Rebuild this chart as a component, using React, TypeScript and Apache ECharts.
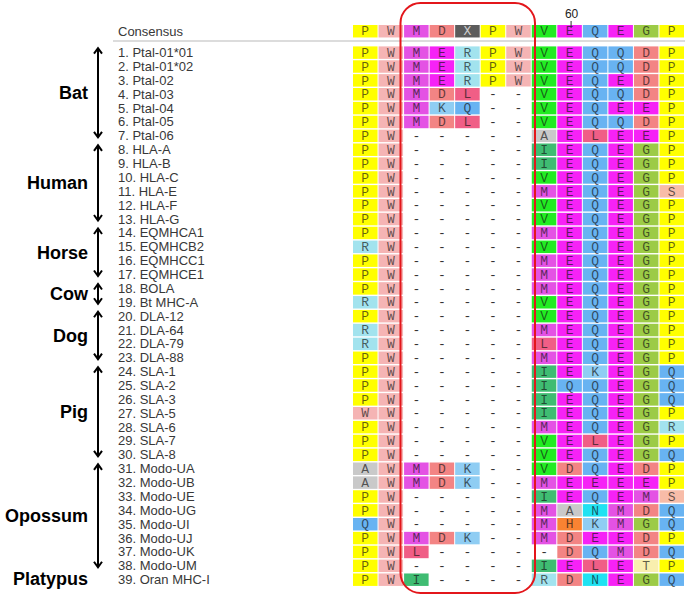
import React, { useEffect, useRef } from 'react';
import * as echarts from 'echarts';

// ---------- data ----------
const consensusName = 'Consensus';
const consensus = 'PWMDXPWVEQEGP';

const seqNames = [
  '1. Ptal-01*01', '2. Ptal-01*02', '3. Ptal-02', '4. Ptal-03', '5. Ptal-04', '6. Ptal-05', '7. Ptal-06',
  '8. HLA-A', '9. HLA-B', '10. HLA-C', '11. HLA-E', '12. HLA-F', '13. HLA-G',
  '14. EQMHCA1', '15. EQMHCB2', '16. EQMHCC1', '17. EQMHCE1',
  '18. BOLA', '19. Bt MHC-A',
  '20. DLA-12', '21. DLA-64', '22. DLA-79', '23. DLA-88',
  '24. SLA-1', '25. SLA-2', '26. SLA-3', '27. SLA-5', '28. SLA-6', '29. SLA-7', '30. SLA-8',
  '31. Modo-UA', '32. Modo-UB', '33. Modo-UE', '34. Modo-UG', '35. Modo-UI', '36. Modo-UJ', '37. Modo-UK', '38. Modo-UM',
  '39. Oran MHC-I',
];

const sequences = [
  'PWMERPWVEQQDP', 'PWMERPWVEQQDP', 'PWMERPWVEQEDP', 'PWMDL--VEQQDP', 'PWMKQ--VEQEEP', 'PWMDL--VEQQDP', 'PW-----AELEEP',
  'PW-----IEQEGP', 'PW-----IEQEGP', 'PW-----VEQEGP', 'PW-----MEQEGS', 'PW-----VEQEGP', 'PW-----VEQEGP',
  'PW-----MEQEGP', 'RW-----VEQEGP', 'PW-----MEQEGP', 'PW-----MEQEGP',
  'PW-----MEQEGP', 'RW-----VEQEGP',
  'PW-----VEQEGP', 'RW-----MEQEGP', 'RW-----LEQEGP', 'PW-----MEQEGP',
  'PW-----IEKEGQ', 'PW-----IQQEGQ', 'PW-----IEQEGQ', 'WW-----IEQEGP', 'PW-----MEQEGR', 'PW-----VELEGP', 'PW-----VEQEGQ',
  'AWMDK--VDQEDP', 'AWMDK--MEEEEP', 'PW-----IEQEMS', 'PW-----MANMDQ', 'QW-----MHKMGQ', 'PWMDK--MDEEDP', 'PWL-----DQMDQ', 'PW-----IELETP',
  'PWI----RDNEGQ',
];

const groupNames = ['Bat', 'Human', 'Horse', 'Cow', 'Dog', 'Pig', 'Opossum', 'Platypus'];
const groupFirstRow = [1, 8, 14, 18, 20, 24, 31, 39];
const groupLastRow = [7, 13, 17, 19, 23, 30, 38, 39];
const groupHasArrow = [true, true, true, true, true, true, true, false];

const markerLabel = '60';
const markerColumn = 8;

const residueColors: Record<string, string> = {
  P: '#ffff00',
  W: '#f5b4b4',
  M: '#e452e4',
  E: '#f622f6',
  D: '#f38484',
  X: '#5c5c5c',
  R: '#a2e3ee',
  K: '#8fcdf3',
  Q: '#68b3f2',
  L: '#f05e86',
  V: '#22ec22',
  A: '#c9c9c9',
  I: '#3fbc72',
  G: '#9ccb46',
  S: '#f8bca8',
  N: '#20e2f2',
  H: '#f98332',
  T: '#f9efae',
};

// ---------- layout ----------
const W = 685;
const H = 596;
const colLeft = 353;
const colW = 25.54;
const rowTop = 45.7;
const rowH = 13.87;
const consTop = 24.3;

export default function App() {
  const ref = useRef<HTMLDivElement>(null);

  useEffect(() => {
    if (!ref.current) return;
    const chart = echarts.init(ref.current, undefined, { renderer: 'svg' });
    const nCols = consensus.length;
    const colCats = Array.from({ length: nCols }, (_, i) => String(i));

    const consData: any[] = [];
    for (let c = 0; c < nCols; c++) consData.push([c, 0, consensus[c]]);
    const mainData: any[] = [];
    sequences.forEach((s, r) => {
      for (let c = 0; c < nCols; c++) mainData.push([c, r, s[c]]);
    });

    const makeRender = (data: any[]) => (params: any, api: any) => {
      const d = data[params.dataIndex];
      const letter: string = d[2];
      const pt = api.coord([api.value(0), api.value(1)]);
      const size = api.size([1, 1]);
      const children: any[] = [];
      if (letter !== '-') {
        children.push({
          type: 'rect',
          shape: { x: pt[0] - size[0] / 2, y: pt[1] - size[1] / 2 + 0.7, width: size[0] - 1, height: size[1] - 1.4 },
          style: { fill: residueColors[letter] || '#ddd' },
        });
      }
      children.push({
        type: 'text',
        style: {
          text: letter,
          x: pt[0] - 0.5,
          y: pt[1] + 0.7,
          align: 'center',
          verticalAlign: 'middle',
          fontSize: 13,
          lineHeight: 11,
          fontFamily: '"Liberation Mono", "Courier New", monospace',
          fill: letter === 'X' ? '#d0d0d0' : letter === '-' ? '#333' : 'rgba(20,20,20,0.68)',
        },
      });
      return { type: 'group', children };
    };

    const hiddenX = (gi: number) => ({
      type: 'category', gridIndex: gi, data: colCats,
      axisLine: { show: false }, axisTick: { show: false }, axisLabel: { show: false }, splitLine: { show: false },
    });
    const labelY = (gi: number, cats: string[]) => ({
      type: 'category', gridIndex: gi, data: cats, inverse: true,
      axisLine: { show: false }, axisTick: { show: false }, splitLine: { show: false },
      axisLabel: {
        show: true, align: 'left', margin: colLeft - 118, interval: 0,
        fontSize: 13, lineHeight: 12, fontFamily: '"Liberation Sans", Arial, sans-serif', color: '#383838',
      },
    });

    const graphics: any[] = [];
    graphics.push({ type: 'line', shape: { x1: 113, y1: 41, x2: W, y2: 41 }, style: { stroke: '#dcdcdc', lineWidth: 2 }, z: 5 });
    const markerX = colLeft + colW * (markerColumn + 0.5) + 1.5;
    graphics.push({
      type: 'text', x: markerX, y: 14,
      style: { text: markerLabel, align: 'center', verticalAlign: 'middle', fontSize: 12, fontFamily: '"Liberation Sans", Arial, sans-serif', fill: '#222' },
      z: 5,
    });
    graphics.push({ type: 'line', shape: { x1: markerX - 0.5, y1: 21, x2: markerX - 0.5, y2: 28 }, style: { stroke: '#333', lineWidth: 1 }, z: 50 });
    graphics.push({
      type: 'rect', shape: { x: 400.5, y: 3, width: 134.5, height: 590, r: 20 },
      style: { fill: 'none', stroke: '#e3161b', lineWidth: 2 }, z: 100,
    });

    const arrowX = 98;
    groupNames.forEach((g, i) => {
      const yTop = rowTop + (groupFirstRow[i] - 1) * rowH;
      const yBot = rowTop + groupLastRow[i] * rowH;
      const yMid = (yTop + yBot) / 2 - 1;
      graphics.push({
        type: 'text', x: 88, y: yMid,
        style: { text: g, align: 'right', verticalAlign: 'middle', fontSize: 18, fontWeight: 'bold', fontFamily: '"Liberation Sans", Arial, sans-serif', fill: '#000' },
        z: 5,
      });
      if (groupHasArrow[i]) {
        const a = yTop + 2;
        const b = yBot - 5;
        graphics.push({ type: 'line', shape: { x1: arrowX, y1: a + 1, x2: arrowX, y2: b - 1 }, style: { stroke: '#000', lineWidth: 2 }, z: 5 });
        graphics.push({ type: 'polyline', shape: { points: [[arrowX - 4, a + 6], [arrowX, a + 0.5], [arrowX + 4, a + 6]] }, style: { stroke: '#000', lineWidth: 2, fill: 'none' }, z: 5 });
        graphics.push({ type: 'polyline', shape: { points: [[arrowX - 4, b - 6], [arrowX, b - 0.5], [arrowX + 4, b - 6]] }, style: { stroke: '#000', lineWidth: 2, fill: 'none' }, z: 5 });
      }
    });

    chart.setOption({
      animation: false,
      backgroundColor: '#ffffff',
      grid: [
        { left: colLeft, top: consTop, width: colW * nCols, height: rowH },
        { left: colLeft, top: rowTop, width: colW * nCols, height: rowH * sequences.length },
      ],
      xAxis: [hiddenX(0), hiddenX(1)],
      yAxis: [labelY(0, [consensusName]), labelY(1, seqNames)],
      series: [
        { type: 'custom', xAxisIndex: 0, yAxisIndex: 0, data: consData.map((d) => [d[0], d[1]]), renderItem: makeRender(consData), silent: true },
        { type: 'custom', xAxisIndex: 1, yAxisIndex: 1, data: mainData.map((d) => [d[0], d[1]]), renderItem: makeRender(mainData), silent: true },
      ],
      graphic: graphics,
    });
    return () => chart.dispose();
  }, []);

  return <div ref={ref} style={{ position: 'fixed', left: 0, top: 0, width: W, height: H }} />;
}
